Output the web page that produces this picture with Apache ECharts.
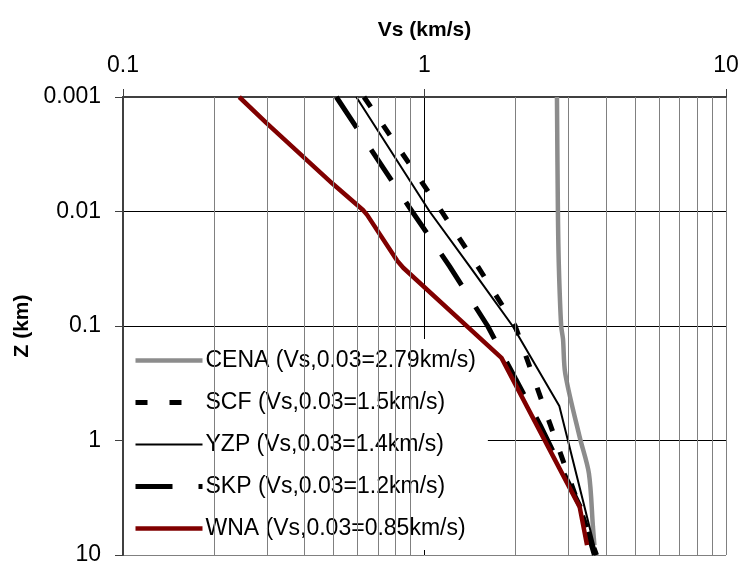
<!DOCTYPE html>
<html>
<head>
<meta charset="utf-8">
<script src="https://cdn.jsdelivr.net/npm/echarts@6/dist/echarts.min.js"></script>
<style>
  html, body { margin: 0; padding: 0; background: #fff; }
  #chart { width: 744px; height: 569px; }
</style>
</head>
<body>
<div id="chart"></div>
<script>
// Shear-wave velocity profiles: Vs (km/s) against depth Z (km), both on log scales.
const seriesNames = [
  'CENA (Vs,0.03=2.79km/s)',
  'SCF (Vs,0.03=1.5km/s)',
  'YZP (Vs,0.03=1.4km/s)',
  'SKP (Vs,0.03=1.2km/s)',
  'WNA (Vs,0.03=0.85km/s)'
];

const cenaVs = [2.75, 2.77, 2.79, 2.84, 2.88, 2.93, 3.27, 3.51, 3.62, 3.66];
const cenaZ  = [0.001, 0.01, 0.03, 0.1, 0.13, 0.26, 0.93, 1.94, 5.7, 8.2];

const scfVs = [0.63, 1.14, 1.5, 2.0, 3.72];
const scfZ  = [0.001, 0.01, 0.03, 0.1, 10];

const yzpVs = [0.594, 1.04, 1.41, 1.96, 2.80, 3.72];
const yzpZ  = [0.001, 0.01, 0.03, 0.1, 0.5, 10];

const skpVs = [0.51, 0.91, 1.21, 1.62, 2.0, 2.42, 3.29, 3.66];
const skpZ  = [0.001, 0.01, 0.03, 0.1, 0.286, 0.734, 3.82, 10];

const wnaVs = [0.243, 0.30, 0.495, 0.625, 0.645, 0.81, 0.85, 1.80, 3.27, 3.46];
const wnaZ  = [0.001, 0.0017, 0.0057, 0.0097, 0.0107, 0.0267, 0.031, 0.19, 3.8, 8.2];

// Axis tick labels
const vsTicks = [0.1, 1, 10];
const vsTickLabels = ['0.1', '1', '10'];
const zTicks = [0.001, 0.01, 0.1, 1, 10];
const zTickLabels = ['0.001', '0.01', '0.1', '1', '10'];

// Intermediate (2..9) gridlines inside each Vs decade
const vsMinorGrid = [];
[0.1, 1].forEach(d => { for (let k = 2; k <= 9; k++) vsMinorGrid.push(+(d * k).toFixed(4)); });

function tickLabel(ticks, labels) {
  return function (v) {
    let best = 0, bestD = Infinity;
    ticks.forEach((t, i) => {
      const d = Math.abs(Math.log10(v) - Math.log10(t));
      if (d < bestD) { bestD = d; best = i; }
    });
    return bestD < 0.01 ? labels[best] : '';
  };
}

const pairs = (xs, ys) => xs.map((x, i) => [x, ys[i]]);

const FONT = 'Liberation Sans, Arial, sans-serif';

const chart = echarts.init(document.getElementById('chart'), null, { renderer: 'canvas' });

chart.setOption({
  animation: false,
  backgroundColor: '#fff',
  grid: { left: 123, top: 97, width: 603, height: 458, containLabel: false },
  xAxis: {
    type: 'log',
    logBase: 10,
    min: 0.1,
    max: 10,
    position: 'top',
    name: 'Vs (km/s)',
    nameLocation: 'middle',
    nameGap: 56,
    nameTextStyle: { fontFamily: FONT, fontSize: 21, fontWeight: 'bold', color: '#000' },
    axisLine: { show: true, lineStyle: { color: '#404040', width: 2 } },
    axisTick: { show: true, inside: false, length: 8, lineStyle: { color: '#404040', width: 1 } },
    axisLabel: {
      fontFamily: FONT, fontSize: 23, color: '#000', margin: 20,
      formatter: tickLabel(vsTicks, vsTickLabels)
    },
    splitLine: { show: true, lineStyle: { color: ['#000', '#000', '#808080'], width: 1 } }
  },
  yAxis: {
    type: 'log',
    logBase: 10,
    min: 0.001,
    max: 10,
    inverse: true,
    name: 'Z (km)',
    nameLocation: 'middle',
    nameGap: 86,
    nameRotate: 90,
    nameTextStyle: { fontFamily: FONT, fontSize: 21, fontWeight: 'bold', color: '#000' },
    axisLine: { show: true, lineStyle: { color: '#404040', width: 2 } },
    axisTick: { show: true, inside: false, length: 8, lineStyle: { color: '#404040', width: 1 } },
    axisLabel: {
      fontFamily: FONT, fontSize: 23, color: '#000', margin: 22,
      formatter: tickLabel(zTicks, zTickLabels)
    },
    splitLine: { show: true, lineStyle: { color: ['#000', '#000', '#000', '#000', '#808080'], width: 1 } }
  },
  legend: {
    orient: 'vertical',
    left: 124,
    top: 339,
    z: 1,
    padding: [10, 12, 10, 9],
    itemWidth: 67,
    itemHeight: 14,
    itemGap: 19,
    backgroundColor: '#fff',
    textStyle: { fontFamily: FONT, fontSize: 23, color: '#000', padding: [0, 0, 0, -2] },
    itemStyle: { opacity: 0 },
    lineStyle: { width: 'inherit', type: 'inherit', cap: 'butt' },
    data: seriesNames
  },
  series: [
    {
      // minor Vs gridlines, kept beneath the legend box
      type: 'line',
      name: 'grid',
      data: [],
      silent: true,
      z: 0.5,
      markLine: {
        silent: true,
        symbol: 'none',
        label: { show: false },
        lineStyle: { color: '#808080', width: 1, type: 'solid' },
        data: vsMinorGrid.map(v => ({ xAxis: v }))
      }
    },
    {
      name: seriesNames[0], type: 'line', showSymbol: false, symbol: 'none', smooth: 0.3, z: 3,
      data: pairs(cenaVs, cenaZ),
      lineStyle: { color: '#8c8c8c', width: 4.5 },
      itemStyle: { color: '#8c8c8c' }
    },
    {
      name: seriesNames[1], type: 'line', showSymbol: false, symbol: 'none', z: 3,
      data: pairs(scfVs, scfZ),
      lineStyle: { color: '#000', width: 5, type: [12, 22], cap: 'butt' },
      itemStyle: { color: '#000' }
    },
    {
      name: seriesNames[2], type: 'line', showSymbol: false, symbol: 'none', z: 3,
      data: pairs(yzpVs, yzpZ),
      lineStyle: { color: '#000', width: 2 },
      itemStyle: { color: '#000' }
    },
    {
      name: seriesNames[3], type: 'line', showSymbol: false, symbol: 'none', z: 3,
      data: pairs(skpVs, skpZ),
      lineStyle: { color: '#000', width: 5, type: [37, 26], cap: 'butt' },
      itemStyle: { color: '#000' }
    },
    {
      name: seriesNames[4], type: 'line', showSymbol: false, symbol: 'none', z: 3,
      data: pairs(wnaVs, wnaZ),
      lineStyle: { color: '#800000', width: 4.5 },
      itemStyle: { color: '#800000' }
    }
  ]
});
</script>
</body>
</html>
